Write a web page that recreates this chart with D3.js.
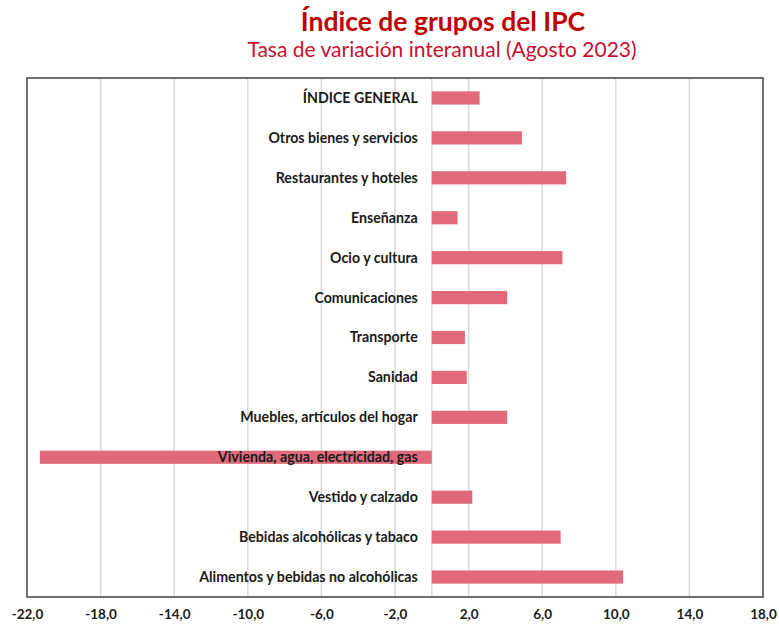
<!DOCTYPE html>
<html>
<head>
<meta charset="utf-8">
<script src="https://cdn.jsdelivr.net/npm/d3@7"></script>
<style>
    body { margin: 0; background: #fff; }
    svg { display: block; font-family: Lato, "Open Sans", sans-serif; }
</style>
</head>
<body>
<svg id="chart" width="779" height="630"></svg>
<script>
const categories = [
    "ÍNDICE GENERAL",
    "Otros bienes y servicios",
    "Restaurantes y hoteles",
    "Enseñanza",
    "Ocio y cultura",
    "Comunicaciones",
    "Transporte",
    "Sanidad",
    "Muebles, artículos del hogar",
    "Vivienda, agua, electricidad, gas",
    "Vestido y calzado",
    "Bebidas alcohólicas y tabaco",
    "Alimentos y bebidas no alcohólicas"
];
const values = [2.6, 4.9, 7.3, 1.4, 7.1, 4.1, 1.8, 1.9, 4.1, -21.3, 2.2, 7.0, 10.4];
const tickValues = [-22, -18, -14, -10, -6, -2, 2, 6, 10, 14, 18];

const titleText = "Índice de grupos del IPC";
const subtitleText = "Tasa de variación interanual (Agosto 2023)";

const svg = d3.select("#chart");
const margin = { top: 78, right: 16, bottom: 33, left: 27 };
const width = 779, height = 630;

const x = d3.scaleLinear()
    .domain([-22, 18])
    .range([margin.left, width - margin.right]);

const y = d3.scaleBand()
    .domain(categories)
    .range([margin.top, height - margin.bottom])
    .paddingInner(0.67)
    .paddingOuter(0.335);

// titles
svg.append("text")
    .attr("x", 443).attr("y", 31)
    .attr("text-anchor", "middle")
    .attr("fill", "#c00000")
    .style("font-size", "26.5px")
    .style("font-weight", "bold")
    .text(titleText);

svg.append("text")
    .attr("x", 442).attr("y", 57)
    .attr("text-anchor", "middle")
    .attr("fill", "#c8102e")
    .style("font-size", "21px")
    .text(subtitleText);

// vertical gridlines
svg.append("g")
    .selectAll("line")
    .data(tickValues.filter(d => d > -22 && d < 18))
    .join("line")
    .attr("x1", d => x(d)).attr("x2", d => x(d))
    .attr("y1", margin.top).attr("y2", height - margin.bottom)
    .attr("stroke", "#d9d9d9")
    .attr("stroke-width", 1.5);

// zero (category axis) line
svg.append("line")
    .attr("x1", x(0)).attr("x2", x(0))
    .attr("y1", margin.top).attr("y2", height - margin.bottom)
    .attr("stroke", "#d9d9d9")
    .attr("stroke-width", 1.5);

// bars
svg.append("g")
    .selectAll("rect")
    .data(categories)
    .join("rect")
    .attr("x", (d, i) => Math.min(x(0), x(values[i])))
    .attr("width", (d, i) => Math.abs(x(values[i]) - x(0)))
    .attr("y", d => y(d))
    .attr("height", y.bandwidth())
    .attr("fill", "#e06a7b");

// category labels
svg.append("g")
    .selectAll("text")
    .data(categories)
    .join("text")
    .attr("x", x(0) - 14)
    .attr("y", d => y(d) + y.bandwidth() / 2)
    .attr("dy", "0.35em")
    .attr("text-anchor", "end")
    .attr("fill", "#1a1a1a")
    .style("font-size", "14.2px")
    .style("font-weight", "bold")
    .text(d => d);

// plot border
svg.append("rect")
    .attr("x", margin.left).attr("y", margin.top)
    .attr("width", width - margin.left - margin.right)
    .attr("height", height - margin.top - margin.bottom)
    .attr("fill", "none")
    .attr("stroke", "#404040")
    .attr("stroke-width", 1.5);

// x axis tick labels
const xAxis = d3.axisBottom(x)
    .tickValues(tickValues)
    .tickSize(0)
    .tickPadding(12)
    .tickFormat(d => d3.format(".1f")(d).replace("−", "-").replace(".", ","));

svg.append("g")
    .attr("transform", `translate(0,${height - margin.bottom})`)
    .call(xAxis)
    .call(g => g.select(".domain").remove())
    .call(g => g.selectAll("text")
        .attr("fill", "#1a1a1a")
        .style("font-family", "Lato, sans-serif")
        .style("font-size", "13.5px")
        .style("font-weight", "bold"));
</script>
</body>
</html>
